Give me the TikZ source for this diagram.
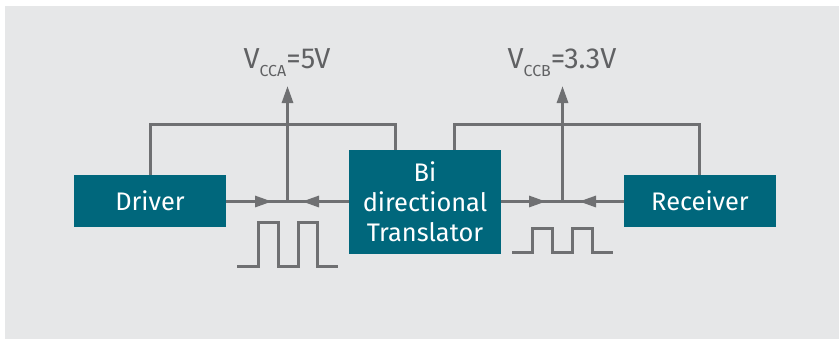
\documentclass[tikz,border=0pt]{standalone}
\usepackage{fontspec}
\setmainfont{Fira Sans}
\usetikzlibrary{arrows.meta}
\definecolor{bggray}{HTML}{E6E7E8}
\definecolor{teal}{HTML}{00677C}
\definecolor{wire}{HTML}{6F7072}
\definecolor{labgray}{HTML}{606163}
\begin{document}
\begin{tikzpicture}[x=1bp,y=-1bp,
  box/.style={fill=teal,text=white,inner sep=0pt,minimum width=152bp,font=\fontsize{25.5}{30}\selectfont,align=center},
  wireline/.style={draw=wire,line width=3bp},
  tip/.style={-{Triangle[length=17bp,width=11bp]}},
  vlabel/.style={text=labgray,anchor=base,inner sep=0pt,font=\fontsize{29}{30}\selectfont}]
\useasboundingbox (0,0) rectangle (839,339);
\fill[bggray] (5,6) rectangle (839,339);
% boxes
\node[box,minimum height=52bp] (drv) at (150,201) {Driver};
\node[box,minimum height=104bp] (tr) at (425,202) {Bi\\directional\\Translator};
\node[box,minimum height=52bp] (rcv) at (700,201) {Receiver};
% junctions and tips
\coordinate (ja) at (287.5,201.5);
\coordinate (jb) at (562.5,201.5);
\coordinate (ta) at (272,201.5);
\coordinate (tb) at (302,201.5);
\coordinate (tc) at (546,201.5);
\coordinate (td) at (579,201.5);
\coordinate (va) at (287.5,86);
\coordinate (vb) at (562.5,86);
\coordinate (ka) at (395,150);
\coordinate (kb) at (454,150);
\coordinate (kc) at (699,175);
% labels
\node[vlabel] (vcca) at (287,68) {V\raisebox{-8bp}{\fontsize{16}{16}\selectfont CCA}=5V};
\node[vlabel] (vccb) at (562,68) {V\raisebox{-8bp}{\fontsize{16}{16}\selectfont CCB}=3.3V};
% horizontal wires
\draw[wireline] (drv.east |- ja) -- (tr.west |- ja);
\draw[wireline] (tr.east |- jb) -- (rcv.west |- jb);
\draw[wireline,tip] (drv.east |- ja) -- (ta);
\draw[wireline,tip] (tr.west |- ja) -- (tb);
\draw[wireline,tip] (tr.east |- jb) -- (tc);
\draw[wireline,tip] (rcv.west |- jb) -- (td);
% supply arrows
\draw[wireline,tip] (ja) -- (va);
\draw[wireline,tip] (jb) -- (vb);
% feedback loops
\draw[wireline] (drv.north) |- (395,124) -- (ka);
\draw[wireline] (kb) |- (kc |- 0,124) -- (kc);
% pulses
\draw[wireline] (237,266.5) -- (258,266.5) -- (258,222) -- (278,222) -- (278,266.5) -- (298,266.5) -- (298,222) -- (317,222) -- (317,266.5) -- (338,266.5);
\draw[wireline] (512,252) -- (532,252) -- (532,228) -- (552,228) -- (552,252) -- (572,252) -- (572,228) -- (592,228) -- (592,252) -- (613,252);
\end{tikzpicture}
\end{document}
